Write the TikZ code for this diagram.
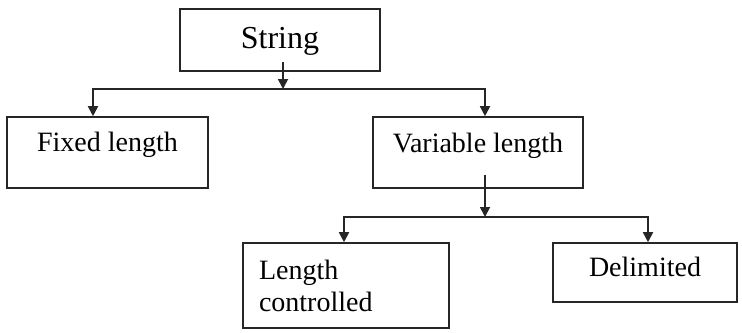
\documentclass[tikz,border=0pt]{standalone}
\usepackage{fontspec}
\setmainfont{Liberation Serif}
\usetikzlibrary{arrows.meta,positioning}
\tikzset{
  box/.style={rectangle, draw=black!85, line width=0.8pt, inner sep=0pt, align=center,
              font=\fontsize{14}{16}\selectfont},
  rootbox/.style={box, font=\fontsize{16}{18}\selectfont},
  flow/.style={-{Triangle[length=5pt,width=5pt]}, draw=black!85, line width=0.9pt}
}
\begin{document}
\begin{tikzpicture}[x=0.5pt, y=-0.5pt]
  \useasboundingbox (0,0) rectangle (742,332);
  % top level
  \node[rootbox, minimum width=100pt, text height=19.5pt, text depth=11.5pt] (str) at (280,40) {String};
  \node[box, minimum width=100.5pt, text height=17pt, text depth=18.5pt] (fix) at (107.5,152.5) {Fixed length};
  \node[box, minimum width=105pt, text height=17.5pt, text depth=18pt] (var) at (478,152.5) {Variable length};
  % second level
  \node[box, align=left, text width=87pt, inner xsep=8pt, minimum height=42.5pt] (lc) at (346,285.5) {Length\\controlled};
  \node[box, minimum width=92pt, text height=16.5pt, text depth=13pt] (del) at (645,272.5) {Delimited};
  % connectors
  \coordinate (j1) at (283,89);
  \coordinate (j2) at (485,217);
  \draw[flow] ([yshift=5pt]str.south -| j1) -- (j1);
  \draw[flow] (j1) -| ([xshift=-7.25pt]fix.north);
  \draw[flow] (j1) -| ([xshift=3.5pt]var.north);
  \draw[flow] ([yshift=7pt]var.south -| j2) -- (j2);
  \draw[flow] (j2) -| ([xshift=-1pt]lc.north);
  \draw[flow] (j2) -| ([xshift=1.5pt]del.north);
\end{tikzpicture}
\end{document}
